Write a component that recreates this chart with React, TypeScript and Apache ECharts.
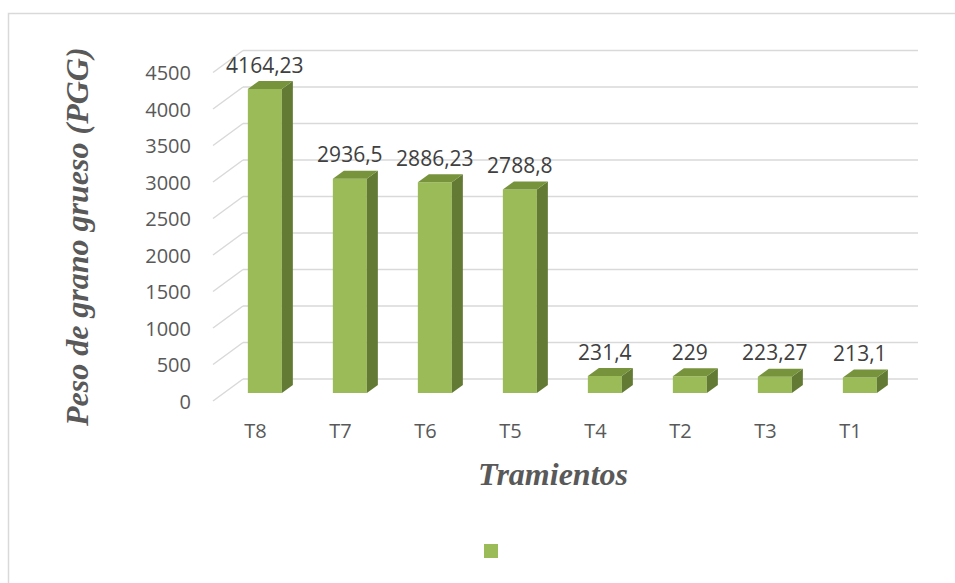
import React, { useEffect, useRef } from "react";
import * as echarts from "echarts";

const categories = ["T8", "T7", "T6", "T5", "T4", "T2", "T3", "T1"];
const pggValues = [4164.23, 2936.5, 2886.23, 2788.8, 231.4, 229, 223.27, 213.1];
const yTicks = [0, 500, 1000, 1500, 2000, 2500, 3000, 3500, 4000, 4500];

const FRONT = "#9bbb59";
const TOPC = "#77933c";
const SIDE = "#627a33";
const GRID = "#d9d9d9";
const TXT = "#595959";

export default function App() {
  const ref = useRef<HTMLDivElement>(null);
  useEffect(() => {
    if (!ref.current) return;
    const chart = echarts.init(ref.current, null, { renderer: "svg" });
    const option: any = {
      animation: false,
      backgroundColor: "#ffffff",
      graphic: [
        {
          type: "rect",
          shape: { x: 8.5, y: 13.5, width: 960, height: 600 },
          style: { fill: "none", stroke: GRID, lineWidth: 1.5 },
          silent: true,
          z: 0,
        },
      ],
      legend: {
        left: 484,
        top: 544,
        padding: 0,
        itemWidth: 14,
        itemHeight: 14,
        formatter: () => "",
        data: [{ name: "PGG", icon: "rect", itemStyle: { color: FRONT } }],
        selectedMode: false,
      },
      grid: { left: 213, right: 62, top: 72.5, bottom: 182 },
      xAxis: {
        type: "category",
        data: categories,
        axisLine: { show: false },
        axisTick: { show: false },
        axisLabel: {
          color: TXT,
          fontFamily: "Open Sans",
          fontSize: 20,
          margin: 19,
        },
        name: "Tramientos",
        nameLocation: "middle",
        nameGap: 57,
        nameTextStyle: {
          fontFamily: "Liberation Serif",
          fontWeight: "bold",
          fontStyle: "italic",
          fontSize: 32,
          color: TXT,
        },
      },
      yAxis: {
        type: "value",
        min: 0,
        max: 4500,
        interval: 500,
        axisLine: { show: false },
        axisTick: { show: false },
        splitLine: { show: false },
        axisLabel: {
          color: TXT,
          fontFamily: "Open Sans",
          fontSize: 20,
          margin: 22,
          formatter: (v: number) => String(v),
        },
        name: "Peso de grano grueso (PGG)",
        nameLocation: "middle",
        nameGap: 120,
        nameTextStyle: {
          fontFamily: "Liberation Serif",
          fontWeight: "bold",
          fontStyle: "italic",
          fontSize: 32,
          color: TXT,
        },
      },
      series: [
        {
          type: "custom",
          name: "grid",
          silent: true,
          z: 1,
          data: yTicks.map((v) => [0, v]),
          renderItem: (params: any, api: any) => {
            const v = api.value(1);
            const p = api.coord([0, v]);
            const cs = params.coordSys;
            const left = cs.x;
            const right = cs.x + cs.width;
            const y = p[1];
            return {
              type: "group",
              children: [
                {
                  type: "line",
                  shape: { x1: left, y1: y, x2: left + 30, y2: y - 22 },
                  style: { stroke: GRID, lineWidth: 1.5 },
                },
                {
                  type: "line",
                  shape: { x1: left + 30, y1: y - 22, x2: right + 25, y2: y - 22 },
                  style: { stroke: GRID, lineWidth: 1.5 },
                },
              ],
            };
          },
        },
        {
          type: "custom",
          name: "PGG",
          z: 2,
          itemStyle: { color: FRONT },
          data: pggValues.map((v, i) => [i, v]),
          renderItem: (params: any, api: any) => {
            const idx = api.value(0);
            const v = api.value(1);
            const base = api.coord([idx, 0]);
            const top = api.coord([idx, v]);
            const band = api.size([1, 0])[0];
            const w = band * 0.4;
            const cx = base[0] + band * 0.11;
            const x0 = cx - w / 2;
            const x1 = cx + w / 2;
            const yb = base[1] - 8;
            const yt = top[1] - 8;
            const dx = 11;
            const dy = 8;
            const label = String(v).replace(".", ",");
            return {
              type: "group",
              children: [
                {
                  type: "rect",
                  shape: { x: x0, y: yt, width: w, height: yb - yt },
                  style: { fill: FRONT },
                },
                {
                  type: "polygon",
                  shape: {
                    points: [
                      [x1, yt],
                      [x1 + dx, yt - dy],
                      [x1 + dx, yb - dy],
                      [x1, yb],
                    ],
                  },
                  style: { fill: SIDE },
                },
                {
                  type: "polygon",
                  shape: {
                    points: [
                      [x0, yt],
                      [x0 + dx, yt - dy],
                      [x1 + dx, yt - dy],
                      [x1, yt],
                    ],
                  },
                  style: { fill: TOPC },
                },
                {
                  type: "text",
                  x: cx,
                  y: yt - dy - 6,
                  style: {
                    text: label,
                    align: "center",
                    verticalAlign: "bottom",
                    fontFamily: "Open Sans",
                    fontSize: 21,
                    fill: "#404040",
                  },
                },
              ],
            };
          },
        },
      ],
    };
    chart.setOption(option);
    return () => chart.dispose();
  }, []);
  return (
    <div
      ref={ref}
      style={{ position: "fixed", left: 0, top: 0, width: 955, height: 583 }}
    />
  );
}
